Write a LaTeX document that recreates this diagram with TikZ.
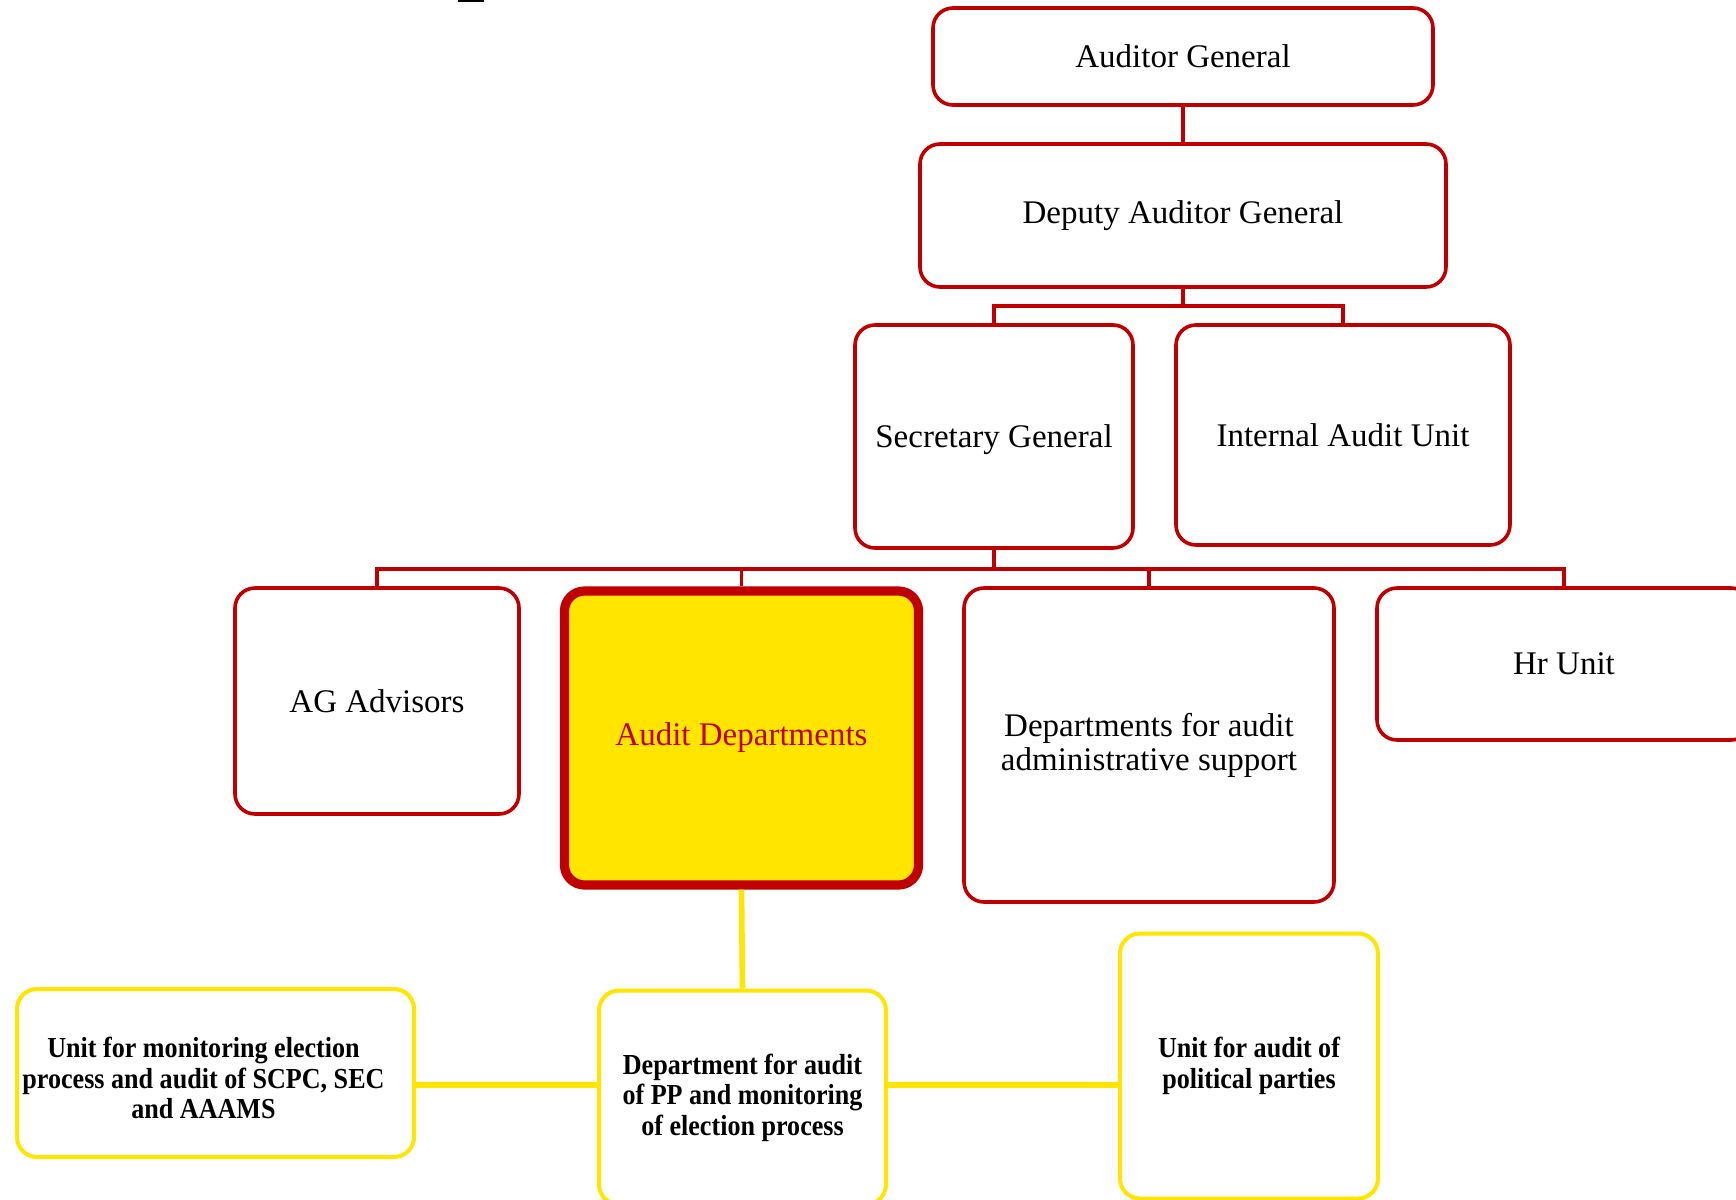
\documentclass[tikz,border=0pt]{standalone}
\usepackage{fontspec}
\setmainfont{Liberation Serif}
\newfontfamily\condfont[FakeStretch=0.9]{Liberation Serif}
\usepackage{tikz}
\usetikzlibrary{positioning}

\definecolor{orgred}{HTML}{C00000}
\definecolor{orgyellow}{HTML}{FFE500}

\tikzset{
    redbox/.style={draw=orgred, line width=1.8pt, rounded corners=10pt, align=center,
        font=\fontsize{16.5}{17}\selectfont, inner sep=0pt},
    yellowbox/.style={draw=orgyellow, line width=2pt, rounded corners=10pt, align=center,
        font=\condfont\bfseries\fontsize{14.5}{15.2}\selectfont, inner sep=0pt},
    ytext/.style={align=center, font=\condfont\bfseries\fontsize{14.5}{15.2}\selectfont, inner sep=0pt},
    redline/.style={draw=orgred, line width=1.7pt},
    yellowline/.style={draw=orgyellow, line width=2.8pt}
}

\begin{document}
\begin{tikzpicture}[x=0.5pt, y=-0.5pt]
        \useasboundingbox (0,0) rectangle (1736,1200);
        \clip (0,0) rectangle (1736,1200);

        % Stray mark at the top
        \draw[line width=1pt] (458,1) -- (484,1);

        % Top of the chart
        \node[redbox, minimum width=250pt, minimum height=48.5pt] (ag) at (1183,56.5) {Auditor General};
        \node[redbox, minimum width=263pt, minimum height=71.5pt] (dag) at (1183,215.5) {Deputy Auditor General};
        \node[redbox, minimum width=139pt, minimum height=111.5pt, text height=14.5pt, text depth=3.6pt] (sg) at (994,436.5) {Secretary General};
        \node[redbox, minimum width=167pt, minimum height=110pt] (iau) at (1343,435) {Internal Audit Unit};

        % Second level
        \node[redbox, minimum width=142pt, minimum height=113pt] (adv) at (377,701) {AG Advisors};
        \node[redbox, draw=orgred, line width=4.6pt, fill=orgyellow, text=orgred,
              minimum width=177pt, minimum height=147pt] (ad) at (741.5,738) {Audit Departments};
        \node[redbox, minimum width=185pt, minimum height=157pt] (das) at (1149,745) {Departments for audit\\administrative support};
        \node[redbox, minimum width=187pt, minimum height=76pt] (hr) at (1564,664) {Hr Unit};

        % Third level
        \node[yellowbox, minimum width=198.5pt, minimum height=84pt,
              label={[ytext, xshift=-6pt, yshift=-2.5pt]center:{Unit for monitoring election\\process and audit of SCPC, SEC\\and AAAMS}}] (mon) at (215.5,1073) {};
        \node[yellowbox, minimum width=143.5pt, minimum height=107pt] (pp) at (742.5,1097.5)
            {Department for audit\\of PP and monitoring\\of election process};
        \node[yellowbox, minimum width=129pt, minimum height=132.5pt] (upp) at (1249,1066)
            {Unit for audit of\\political parties};

        % Red connectors
        \draw[redline] (ag.south) -- (dag.north);
        \coordinate (bus1) at (1183,306);
        \draw[redline] (dag.south) -- (bus1);
        \draw[redline] (bus1) -| (sg.north);
        \draw[redline] (bus1) -| (iau.north);
        \coordinate (bus2) at (994,569);
        \draw[redline] (sg.south) -- (bus2);
        \draw[redline] (bus2) -| (adv.north);
        \draw[redline] (bus2) -| (ad.north);
        \draw[redline] (bus2) -| (das.north);
        \draw[redline] (bus2) -| (hr.north);

        % Yellow connectors
        \coordinate (ylevel) at (0,1085);
        \draw[yellowline] (ad.south) -- (pp.north);
        \draw[yellowline] (mon.east |- ylevel) -- (pp.west |- ylevel);
        \draw[yellowline] (pp.east |- ylevel) -- (upp.west |- ylevel);
\end{tikzpicture}
\end{document}
